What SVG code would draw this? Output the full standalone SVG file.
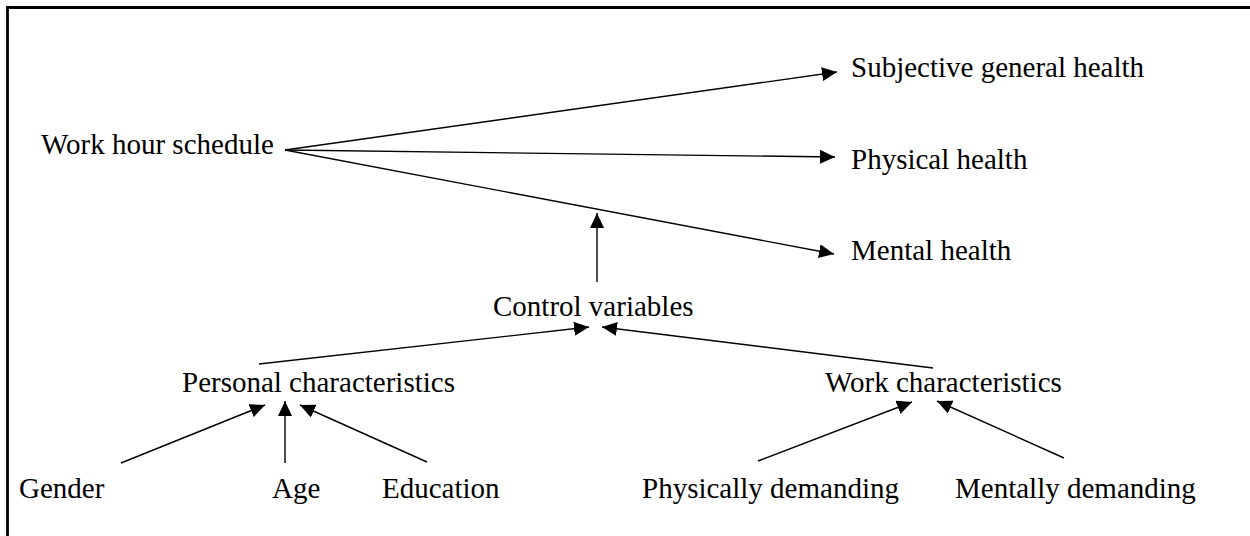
<svg xmlns="http://www.w3.org/2000/svg" width="1250" height="536" viewBox="0 0 1250 536">
  <style>
    text { font-family: "Liberation Serif", "Times New Roman", serif; font-size: 29px; fill: #000; }
    .edge { stroke: #000; stroke-width: 1.4; fill: none; marker-end: url(#arrow); }
    .frame { stroke: #000; stroke-width: 2.8; fill: none; }
  </style>
  <defs>
    <marker id="arrow" markerUnits="userSpaceOnUse" markerWidth="16" markerHeight="14" refX="15" refY="7" orient="auto">
      <path d="M0,0 L15,7 L0,14 z" fill="#000"/>
    </marker>
  </defs>
  <rect width="1250" height="536" fill="#fff"/>
  <path class="frame" d="M7.5,536 V7.5 H1250"/>

  <g id="connectors">
    <line class="edge" x1="285" y1="150" x2="837" y2="72"/>
    <line class="edge" x1="285" y1="150" x2="835" y2="157"/>
    <line class="edge" x1="285" y1="150" x2="834" y2="254"/>
    <line class="edge" x1="597" y1="282" x2="597" y2="213"/>
    <line class="edge" x1="259" y1="364" x2="589" y2="327"/>
    <line class="edge" x1="933" y1="368" x2="602" y2="327"/>
    <line class="edge" x1="121" y1="463" x2="265" y2="405"/>
    <line class="edge" x1="285" y1="463" x2="285" y2="401"/>
    <line class="edge" x1="427" y1="462" x2="300" y2="405"/>
    <line class="edge" x1="758" y1="461" x2="912" y2="402"/>
    <line class="edge" x1="1064" y1="458" x2="937" y2="401"/>
  </g>

  <g id="node-work-hour-schedule"><text x="41" y="154">Work hour schedule</text></g>
  <g id="node-subjective-general-health"><text x="851" y="77">Subjective general health</text></g>
  <g id="node-physical-health"><text x="851" y="169">Physical health</text></g>
  <g id="node-mental-health"><text x="851" y="260">Mental health</text></g>
  <g id="node-control-variables"><text x="493" y="316">Control variables</text></g>
  <g id="node-personal-characteristics"><text x="182" y="392">Personal characteristics</text></g>
  <g id="node-work-characteristics"><text x="825" y="392">Work characteristics</text></g>
  <g id="node-gender"><text x="19" y="498">Gender</text></g>
  <g id="node-age"><text x="272" y="498">Age</text></g>
  <g id="node-education"><text x="382" y="498">Education</text></g>
  <g id="node-physically-demanding"><text x="642" y="498">Physically demanding</text></g>
  <g id="node-mentally-demanding"><text x="955" y="498">Mentally demanding</text></g>
</svg>
